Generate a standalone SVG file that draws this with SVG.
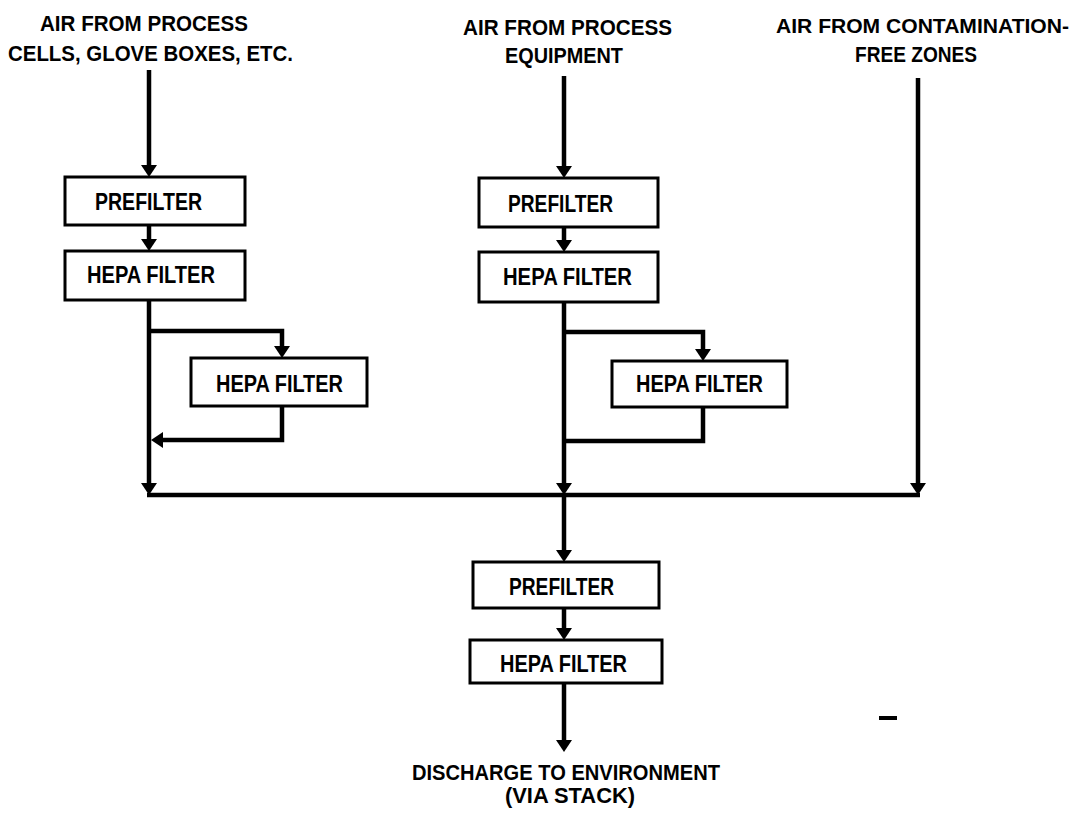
<svg xmlns="http://www.w3.org/2000/svg" width="1079" height="816" viewBox="0 0 1079 816">
<style>
  .box { fill: #ffffff; stroke: #000000; stroke-width: 3; }
  .t { font-family: "Liberation Sans Narrow", "Liberation Sans", Arial, sans-serif; font-weight: bold; fill: #000000; }
  .lbl { font-size: 22px; }
  .bt { font-size: 24px; }
  .ft { font-size: 22px; }
  .ln { fill: none; stroke: #000000; stroke-width: 4.5; stroke-linejoin: miter; }
  .arr { marker-end: url(#ah); }
</style>
<defs>
  <marker id="ah" markerUnits="userSpaceOnUse" viewBox="0 0 12 16" refX="2" refY="8" markerWidth="12" markerHeight="16" orient="auto">
    <path d="M0,0 L12,8 L0,16 Z" fill="#000000"/>
  </marker>
</defs>
<rect width="1079" height="816" fill="#ffffff"/>

<g id="labels">
  <text class="t lbl" x="40" y="31" textLength="208" lengthAdjust="spacingAndGlyphs">AIR FROM PROCESS</text>
  <text class="t lbl" x="8" y="61" textLength="285" lengthAdjust="spacingAndGlyphs">CELLS, GLOVE BOXES, ETC.</text>
  <text class="t lbl" x="463" y="35" textLength="209" lengthAdjust="spacingAndGlyphs">AIR FROM PROCESS</text>
  <text class="t lbl" x="505" y="63" textLength="118" lengthAdjust="spacingAndGlyphs">EQUIPMENT</text>
  <text class="t" style="font-size:20.5px" x="776" y="33" textLength="293" lengthAdjust="spacingAndGlyphs">AIR FROM CONTAMINATION-</text>
  <text class="t lbl" x="855" y="62" textLength="122" lengthAdjust="spacingAndGlyphs">FREE ZONES</text>
  <text class="t ft" x="412" y="780" textLength="308" lengthAdjust="spacingAndGlyphs">DISCHARGE TO ENVIRONMENT</text>
  <text class="t ft" x="505" y="803" textLength="130" lengthAdjust="spacingAndGlyphs">(VIA STACK)</text>
</g>

<g id="connectors">
  <path class="ln arr" d="M149,70 V167"/>
  <path class="ln arr" d="M149,225 V241"/>
  <path class="ln arr" d="M149,300 V485"/>
  <path class="ln arr" d="M149,331 H282 V348"/>
  <path class="ln arr" d="M282,406 V440 H161"/>

  <path class="ln arr" d="M564,76 V168"/>
  <path class="ln arr" d="M564,227 V242"/>
  <path class="ln arr" d="M564,302 V485"/>
  <path class="ln arr" d="M564,332 H703 V351"/>
  <path class="ln" d="M703,407 V441 H564"/>

  <path class="ln arr" d="M918,78 V485"/>
  <path class="ln" d="M147,495 H920"/>

  <path class="ln arr" d="M564,495 V552"/>
  <path class="ln arr" d="M564,608 V630"/>
  <path class="ln arr" d="M564,683 V742"/>
</g>

<g id="left-prefilter">
  <rect class="box" x="65" y="177" width="180" height="48"/>
  <text class="t bt" x="95" y="210" textLength="107" lengthAdjust="spacingAndGlyphs">PREFILTER</text>
</g>
<g id="left-hepa">
  <rect class="box" x="65" y="251" width="180" height="49"/>
  <text class="t bt" x="87" y="283" textLength="128" lengthAdjust="spacingAndGlyphs">HEPA FILTER</text>
</g>
<g id="left-bypass-hepa">
  <rect class="box" x="191" y="358" width="176" height="48"/>
  <text class="t bt" x="216" y="392" textLength="127" lengthAdjust="spacingAndGlyphs">HEPA FILTER</text>
</g>

<g id="mid-prefilter">
  <rect class="box" x="479" y="178" width="179" height="49"/>
  <text class="t bt" x="508" y="212" textLength="105" lengthAdjust="spacingAndGlyphs">PREFILTER</text>
</g>
<g id="mid-hepa">
  <rect class="box" x="479" y="252" width="179" height="50"/>
  <text class="t bt" x="503" y="285" textLength="129" lengthAdjust="spacingAndGlyphs">HEPA FILTER</text>
</g>
<g id="mid-bypass-hepa">
  <rect class="box" x="612" y="361" width="175" height="46"/>
  <text class="t bt" x="636" y="392" textLength="127" lengthAdjust="spacingAndGlyphs">HEPA FILTER</text>
</g>

<g id="final-prefilter">
  <rect class="box" x="473" y="562" width="186" height="46"/>
  <text class="t bt" x="509" y="595" textLength="105" lengthAdjust="spacingAndGlyphs">PREFILTER</text>
</g>
<g id="final-hepa">
  <rect class="box" x="470" y="640" width="192" height="43"/>
  <text class="t bt" x="500" y="672" textLength="127" lengthAdjust="spacingAndGlyphs">HEPA FILTER</text>
</g>

<rect x="879" y="716" width="18" height="4" fill="#000000"/>
</svg>
